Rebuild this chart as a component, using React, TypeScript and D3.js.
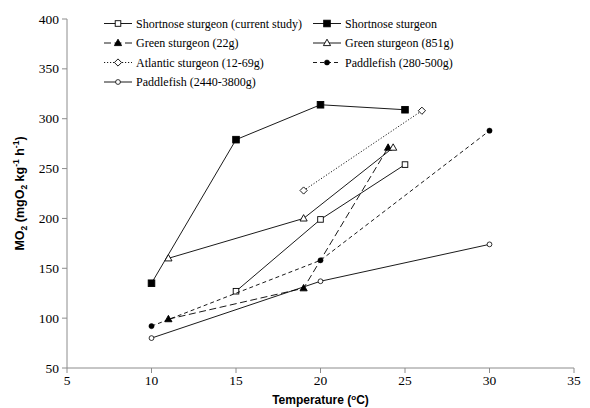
import React from "react";
import * as d3 from "d3";

const xTicks = [5, 10, 15, 20, 25, 30, 35];
const yTicks = [50, 100, 150, 200, 250, 300, 350, 400];

const currentX = [15, 20, 25];
const currentY = [127, 199, 254];
const shortnoseX = [10, 15, 20, 25];
const shortnoseY = [135, 279, 314, 309];
const green22X = [11, 19, 24];
const green22Y = [99, 130, 271];
const green851X = [11, 19, 24.3];
const green851Y = [160, 200, 271];
const atlanticX = [19, 26];
const atlanticY = [228, 308];
const paddle280X = [10, 20, 30];
const paddle280Y = [92, 158, 288];
const paddle2440X = [10, 20, 30];
const paddle2440Y = [80, 137, 174];

type Marker = "squareOpen" | "squareFilled" | "triFilled" | "triOpen" | "diamondOpen" | "circleFilled" | "circleOpen";

interface Series {
  name: string;
  xs: number[];
  ys: number[];
  dash: string;
  marker: Marker;
}

const series: Series[] = [
  { name: "Shortnose sturgeon (current study)", xs: currentX, ys: currentY, dash: "", marker: "squareOpen" },
  { name: "Shortnose sturgeon", xs: shortnoseX, ys: shortnoseY, dash: "", marker: "squareFilled" },
  { name: "Green sturgeon (22g)", xs: green22X, ys: green22Y, dash: "7,3.5", marker: "triFilled" },
  { name: "Green sturgeon (851g)", xs: green851X, ys: green851Y, dash: "", marker: "triOpen" },
  { name: "Atlantic sturgeon (12-69g)", xs: atlanticX, ys: atlanticY, dash: "1.2,1.8", marker: "diamondOpen" },
  { name: "Paddlefish (280-500g)", xs: paddle280X, ys: paddle280Y, dash: "4,3", marker: "circleFilled" },
  { name: "Paddlefish (2440-3800g)", xs: paddle2440X, ys: paddle2440Y, dash: "", marker: "circleOpen" },
];

const W = 590;
const H = 408;
const left = 67;
const right = 574;
const top = 19;
const bottom = 368;

function MarkerShape({ type, x, y }: { type: Marker; x: number; y: number }) {
  const sw = 0.9;
  switch (type) {
    case "squareOpen":
      return <rect x={x - 2.8} y={y - 2.8} width={5.6} height={5.6} fill="#fff" stroke="#000" strokeWidth={sw} />;
    case "squareFilled":
      return <rect x={x - 3.3} y={y - 3.3} width={6.6} height={6.6} fill="#000" stroke="#000" strokeWidth={sw} />;
    case "triFilled":
      return <path d={`M${x},${y - 3.8}L${x + 3.6},${y + 2.6}L${x - 3.6},${y + 2.6}Z`} fill="#000" stroke="#000" strokeWidth={sw} />;
    case "triOpen":
      return <path d={`M${x},${y - 3.8}L${x + 3.6},${y + 2.6}L${x - 3.6},${y + 2.6}Z`} fill="#fff" stroke="#000" strokeWidth={sw} />;
    case "diamondOpen":
      return <path d={`M${x},${y - 3.6}L${x + 3.6},${y}L${x},${y + 3.6}L${x - 3.6},${y}Z`} fill="#fff" stroke="#000" strokeWidth={sw} />;
    case "circleFilled":
      return <circle cx={x} cy={y} r={2.6} fill="#000" stroke="#000" strokeWidth={0.5} />;
    case "circleOpen":
      return <circle cx={x} cy={y} r={2.4} fill="#fff" stroke="#000" strokeWidth={0.8} />;
  }
  return null;
}

export default function App() {
  const x = d3.scaleLinear().domain([5, 35]).range([left, right]);
  const y = d3.scaleLinear().domain([50, 400]).range([bottom, top]);
  const line = d3
    .line<[number, number]>()
    .x((d) => x(d[0]))
    .y((d) => y(d[1]));

  const serif = "'Liberation Serif', 'Times New Roman', serif";
  const sans = "'Liberation Sans', Arial, sans-serif";

  const legendCols = [104, 313];
  const legendRows = [23.5, 43, 62.5, 82];
  const legendItems = [
    { s: series[0], col: 0, row: 0 },
    { s: series[1], col: 1, row: 0 },
    { s: series[2], col: 0, row: 1 },
    { s: series[3], col: 1, row: 1 },
    { s: series[4], col: 0, row: 2 },
    { s: series[5], col: 1, row: 2 },
    { s: series[6], col: 0, row: 3 },
  ];

  return (
    <svg width={W} height={H} style={{ position: "absolute", left: 0, top: 0, background: "#fff" }}>
      {/* axes */}
      <line x1={left} x2={right} y1={bottom} y2={bottom} stroke="#8c8c8c" strokeWidth={1} />
      <line x1={left} x2={left} y1={top} y2={bottom} stroke="#8c8c8c" strokeWidth={1} />
      {xTicks.map((t) => (
        <g key={"x" + t}>
          <line x1={x(t)} x2={x(t)} y1={bottom} y2={bottom + 5} stroke="#8c8c8c" />
          <text x={x(t)} y={bottom + 17} textAnchor="middle" fontFamily={serif} fontSize={13.5} fill="#000">
            {t}
          </text>
        </g>
      ))}
      {yTicks.map((t) => (
        <g key={"y" + t}>
          <line x1={left - 5} x2={left} y1={y(t)} y2={y(t)} stroke="#8c8c8c" />
          <text x={left - 8} y={y(t) + 4.5} textAnchor="end" fontFamily={serif} fontSize={13.5} fill="#000">
            {t}
          </text>
        </g>
      ))}
      {/* axis titles */}
      <text x={(left + right) / 2} y={404} textAnchor="middle" fontFamily={sans} fontWeight="bold" fontSize={12} fill="#000">
        Temperature (
        <tspan fontSize={8} dy={-4}>o</tspan>
        <tspan dy={4}>C)</tspan>
      </text>
      <text
        transform={`translate(24,${(top + bottom) / 2}) rotate(-90)`}
        textAnchor="middle"
        fontFamily={sans}
        fontWeight="bold"
        fontSize={12.5}
        fill="#000"
      >
        MO
        <tspan fontSize={8.5} dy={3}>2</tspan>
        <tspan dy={-3}> (mgO</tspan>
        <tspan fontSize={8.5} dy={3}>2</tspan>
        <tspan dy={-3}> kg</tspan>
        <tspan fontSize={8.5} dy={-5}>-1</tspan>
        <tspan dy={5}> h</tspan>
        <tspan fontSize={8.5} dy={-5}>-1</tspan>
        <tspan dy={5}>)</tspan>
      </text>
      {/* series */}
      {series.map((s) => {
        const pts = s.xs.map((v, i) => [v, s.ys[i]] as [number, number]);
        return (
          <g key={s.name}>
            <path d={line(pts) || ""} fill="none" stroke="#000" strokeWidth={0.9} strokeDasharray={s.dash || undefined} />
            {pts.map((p, i) => (
              <MarkerShape key={i} type={s.marker} x={x(p[0])} y={y(p[1])} />
            ))}
          </g>
        );
      })}
      {/* legend */}
      {legendItems.map(({ s, col, row }) => {
        const lx = legendCols[col];
        const ly = legendRows[row];
        return (
          <g key={"lg" + s.name}>
            <line x1={lx} x2={lx + 28} y1={ly} y2={ly} stroke="#000" strokeWidth={0.9} strokeDasharray={s.dash || undefined} />
            <MarkerShape type={s.marker} x={lx + 14} y={ly} />
            <text x={lx + 32} y={ly + 4} fontFamily={serif} fontSize={12} fill="#000">
              {s.name}
            </text>
          </g>
        );
      })}
    </svg>
  );
}
